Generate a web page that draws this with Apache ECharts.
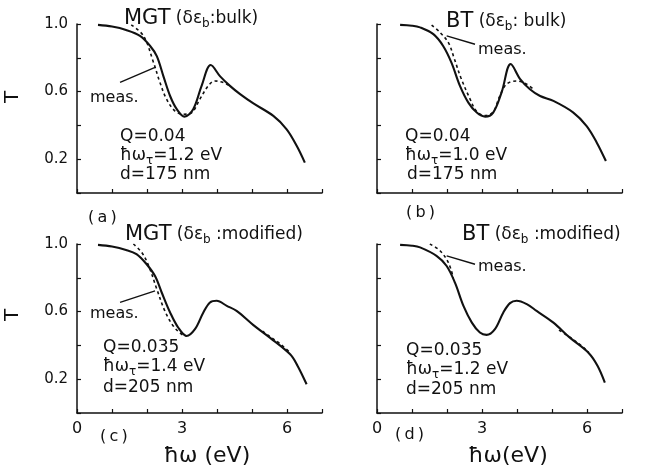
<!DOCTYPE html>
<html><head><meta charset="utf-8">
<script src="https://cdn.jsdelivr.net/npm/echarts@6/dist/echarts.min.js"></script>
<style>html,body{margin:0;padding:0;background:#fff}#c{width:645px;height:468px}</style>
</head><body><div id="c"></div>
<script>
// ---- data (photon energy in eV, transmittance T) ----
const xTickLabels = [0, 3, 6];
const yTickLabels = [0.2, 0.6, 1.0];

// (a) MGT, bulk
const aCalcE = [0.6, 1.0, 1.4, 1.8, 2.09, 2.28, 2.47, 2.66, 2.85, 3.07, 3.32, 3.56, 3.82, 4.09, 4.37, 4.66, 5.04, 5.61, 5.99, 6.28, 6.51];
const aCalcT = [0.995, 0.985, 0.965, 0.93, 0.87, 0.81, 0.69, 0.574, 0.496, 0.452, 0.496, 0.634, 0.757, 0.69, 0.634, 0.585, 0.53, 0.456, 0.377, 0.278, 0.18];
const aMeasE = [1.55, 1.9, 2.19, 2.37, 2.56, 2.8, 3.04, 3.28, 3.51, 3.75, 3.94, 4.18, 4.37];
const aMeasT = [0.995, 0.93, 0.77, 0.654, 0.555, 0.485, 0.466, 0.476, 0.555, 0.634, 0.663, 0.654, 0.634];

// (b) BT, bulk
const bCalcE = [0.66, 1.0, 1.23, 1.61, 1.89, 2.13, 2.37, 2.61, 2.85, 3.09, 3.32, 3.56, 3.82, 4.09, 4.37, 4.66, 5.04, 5.61, 5.99, 6.28, 6.54];
const bCalcT = [0.995, 0.99, 0.98, 0.94, 0.87, 0.77, 0.634, 0.535, 0.476, 0.452, 0.476, 0.595, 0.763, 0.674, 0.614, 0.574, 0.545, 0.476, 0.396, 0.298, 0.189];
const bMeasE = [1.56, 1.8, 2.04, 2.2, 2.4, 2.65, 2.85, 3.09, 3.32, 3.5, 3.7, 3.99, 4.28, 4.47];
const bMeasT = [0.994, 0.95, 0.89, 0.8, 0.68, 0.56, 0.482, 0.458, 0.48, 0.57, 0.644, 0.663, 0.644, 0.614];

// (c) MGT, modified
const cCalcE = [0.6, 1.0, 1.4, 1.7, 1.99, 2.23, 2.42, 2.66, 2.89, 3.13, 3.37, 3.61, 3.8, 3.99, 4.28, 4.56, 5.04, 5.51, 6.09, 6.3, 6.56];
const cCalcT = [0.995, 0.985, 0.965, 0.94, 0.88, 0.81, 0.713, 0.595, 0.506, 0.456, 0.496, 0.595, 0.654, 0.664, 0.634, 0.604, 0.52, 0.446, 0.347, 0.28, 0.17];
const cMeasE = [1.61, 1.85, 2.05, 2.28, 2.51, 2.75, 2.99, 3.13, null, 5.3, 5.51, 5.8, 6.1];
const cMeasT = [1.0, 0.95, 0.87, 0.733, 0.604, 0.515, 0.466, 0.456, null, 0.485, 0.452, 0.41, 0.355];

// (d) BT, modified
const dCalcE = [0.66, 1.0, 1.23, 1.7, 1.99, 2.23, 2.47, 2.71, 2.94, 3.13, 3.37, 3.61, 3.8, 3.99, 4.28, 4.56, 5.04, 5.51, 6.04, 6.3, 6.51];
const dCalcT = [0.995, 0.99, 0.98, 0.93, 0.87, 0.77, 0.634, 0.535, 0.476, 0.462, 0.496, 0.595, 0.65, 0.664, 0.644, 0.604, 0.535, 0.446, 0.357, 0.28, 0.18];
const dMeasE = [1.51, 1.8, 2.04, 2.18, null, 5.2, 5.5, 5.8, 6.05];
const dMeasT = [1.0, 0.96, 0.89, 0.8, null, 0.49, 0.45, 0.405, 0.358];

// leader lines for "meas." labels: [E1, T1, E2, T2]
const aLeader = [1.23, 0.654, 2.23, 0.743];
const bLeader = [1.99, 0.93, 2.8, 0.88];
const cLeader = [1.23, 0.655, 2.23, 0.723];
const dLeader = [1.99, 0.93, 2.8, 0.88];

// ---- chart ----
const FONT = 'DejaVu Sans';
const INK = '#111';
const zip = (E, T) => E.map((e, i) => (e === null ? [null, null] : [e, T[i]]));

const grids = [
  { left: 77, top: 24, width: 245, height: 169 },
  { left: 377, top: 24, width: 245, height: 169 },
  { left: 77, top: 244, width: 245, height: 169 },
  { left: 377, top: 244, width: 245, height: 169 }
];

const xAxes = grids.map((g, i) => ({
  gridIndex: i, type: 'value', min: 0, max: 7, interval: 1,
  axisLine: { lineStyle: { color: INK, width: 1.5 } },
  axisTick: { inside: true, length: 4, lineStyle: { color: INK, width: 1.2 } },
  splitLine: { show: false },
  axisLabel: {
    show: i >= 2, margin: 8, color: INK, fontFamily: FONT, fontSize: 16,
    formatter: v => (xTickLabels.indexOf(v) >= 0 ? String(v) : '')
  }
}));
const yAxes = grids.map((g, i) => ({
  gridIndex: i, type: 'value', min: 0, max: 1, interval: 0.2,
  axisLine: { show: true, lineStyle: { color: INK, width: 1.5 } },
  axisTick: { show: true, inside: true, length: 4, lineStyle: { color: INK, width: 1.2 } },
  splitLine: { show: false },
  axisLabel: {
    show: i % 2 === 0, margin: 9, color: INK, fontFamily: FONT, fontSize: 15,
    formatter: v => (yTickLabels.some(t => Math.abs(t - v) < 1e-6) ? v.toFixed(1) : '')
  }
}));

const panels = [
  [aCalcE, aCalcT, aMeasE, aMeasT, aLeader],
  [bCalcE, bCalcT, bMeasE, bMeasT, bLeader],
  [cCalcE, cCalcT, cMeasE, cMeasT, cLeader],
  [dCalcE, dCalcT, dMeasE, dMeasT, dLeader]
];
const series = [];
panels.forEach((p, i) => {
  series.push({
    type: 'line', xAxisIndex: i, yAxisIndex: i, data: zip(p[2], p[3]),
    smooth: 0.35, showSymbol: false, connectNulls: false, z: 2,
    lineStyle: { color: INK, width: 1.6, type: [3, 3] },
    markLine: {
      silent: true, symbol: ['none', 'none'], label: { show: false },
      lineStyle: { color: INK, width: 1.4, type: 'solid' },
      data: [[{ coord: [p[4][0], p[4][1]] }, { coord: [p[4][2], p[4][3]] }]]
    }
  });
  series.push({
    type: 'line', xAxisIndex: i, yAxisIndex: i, data: zip(p[0], p[1]),
    smooth: 0.35, showSymbol: false, z: 3,
    lineStyle: { color: INK, width: 2.1 }
  });
});

const rich = {
  m: { fontFamily: FONT, fontSize: 21, color: INK },
  t: { fontFamily: FONT, fontSize: 17, color: INK },
  p: { fontFamily: FONT, fontSize: 17, color: INK },
  s: { fontFamily: FONT, fontSize: 12, color: INK, padding: [10, 0, 0, 0] }
};
function txt(x, y, text, opt) {
  opt = opt || {};
  return {
    type: 'text', x: x, y: y, rotation: opt.rot || 0, z: 10,
    style: {
      text: text, rich: rich, fill: INK, fontFamily: FONT,
      fontSize: opt.size || 17, align: opt.align || 'left', verticalAlign: 'middle'
    }
  };
}
const graphics = [
  // titles
  txt(124, 19, '{m|MGT} {t|(δε}{s|b}{t|:bulk)}'),
  txt(446, 22, '{m|BT} {t|(δε}{s|b}{t|: bulk)}'),
  txt(125, 235, '{m|MGT} {t|(δε}{s|b}{t| :modified)}'),
  txt(462, 235, '{m|BT} {t|(δε}{s|b}{t| :modified)}'),
  // meas.
  txt(90, 98, 'meas.', { size: 16 }), txt(478, 50, 'meas.', { size: 16 }),
  txt(90, 314, 'meas.', { size: 16 }), txt(478, 267, 'meas.', { size: 16 }),
  // parameters
  txt(120, 137, 'Q=0.04'), txt(120, 156, '{p|ħω}{s|τ}{p|=1.2 eV}'), txt(120, 175, 'd=175 nm'),
  txt(405, 137, 'Q=0.04'), txt(405, 156, '{p|ħω}{s|τ}{p|=1.0 eV}'), txt(407, 175, 'd=175 nm'),
  txt(103, 348, 'Q=0.035'), txt(103, 367, '{p|ħω}{s|τ}{p|=1.4 eV}'), txt(103, 388, 'd=205 nm'),
  txt(406, 351, 'Q=0.035'), txt(406, 370, '{p|ħω}{s|τ}{p|=1.2 eV}'), txt(406, 390, 'd=205 nm'),
  // panel letters
  txt(88, 218, '(\u2009a\u2009)', { size: 16 }), txt(406, 213, '(\u2009b\u2009)', { size: 16 }),
  txt(100, 437, '(\u2009c\u2009)', { size: 16 }), txt(395, 435, '(\u2009d\u2009)', { size: 16 }),
  // axis names
  txt(13, 97, 'T', { rot: Math.PI / 2, size: 20, align: 'center' }),
  txt(13, 315, 'T', { rot: Math.PI / 2, size: 20, align: 'center' }),
  txt(207, 456, 'ħω (eV)', { size: 22, align: 'center' }),
  txt(508, 456, 'ħω(eV)', { size: 22, align: 'center' })
];

const chart = echarts.init(document.getElementById('c'), null, { renderer: 'canvas' });
chart.setOption({
  backgroundColor: '#fff', animation: false,
  grid: grids, xAxis: xAxes, yAxis: yAxes, series: series, graphic: graphics
});
</script></body></html>
